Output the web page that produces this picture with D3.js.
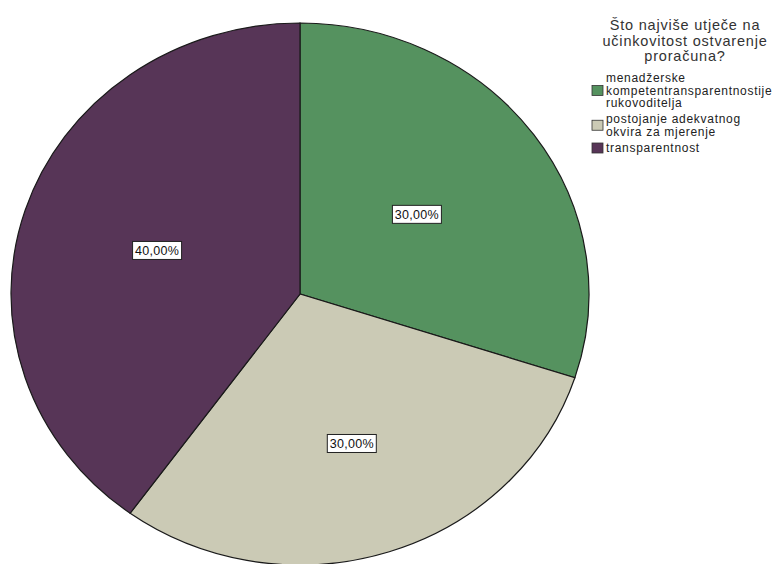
<!DOCTYPE html>
<html>
<head>
<meta charset="utf-8">
<script src="https://cdn.jsdelivr.net/npm/d3@7"></script>
<style>
  body { margin: 0; background: #fff; }
  svg { display: block; font-family: "Liberation Sans", Arial, sans-serif; }
</style>
</head>
<body>
<svg id="chart" width="774" height="564"></svg>
<script>
const categories = [
  ["menadžerske", "kompetentransparentnostije", "rukovoditelja"],
  ["postojanje adekvatnog", "okvira za mjerenje"],
  ["transparentnost"]
];
const values = [30, 30, 40];
const valueLabels = ["30,00%", "30,00%", "40,00%"];
const colors = ["#55925f", "#cbcab5", "#573557"];
const legendTitle = ["Što najviše utječe na", "učinkovitost ostvarenje", "proračuna?"];
const labelRadiusFactor = [0.5, 0.58, 0.52];

const svg = d3.select("#chart");
const cx = 300, cy = 294, rx = 289, ry = 271;

const pie = d3.pie().sort(null).value(d => d);
const arcs = pie(values);
const arc = d3.arc().innerRadius(0).outerRadius(rx);

const g = svg.append("g").attr("transform", `translate(${cx},${cy}) scale(1,${ry / rx})`);
g.selectAll("path")
  .data(arcs)
  .join("path")
  .attr("d", arc)
  .attr("fill", (d, i) => colors[i])
  .attr("stroke", "#1a1a1a")
  .attr("stroke-width", 1.2)
  .attr("vector-effect", "non-scaling-stroke");

// value labels
arcs.forEach((d, i) => {
  const a = (d.startAngle + d.endAngle) / 2;
  const f = labelRadiusFactor[i];
  const x = cx + Math.sin(a) * rx * f;
  const y = cy - Math.cos(a) * ry * f;
  const lg = svg.append("g").attr("transform", `translate(${x},${y})`);
  const w = 49, h = 18;
  lg.append("rect")
    .attr("x", -w / 2).attr("y", -h / 2)
    .attr("width", w).attr("height", h)
    .attr("fill", "#fff").attr("stroke", "#222").attr("stroke-width", 1);
  lg.append("text")
    .attr("text-anchor", "middle")
    .attr("dy", "0.36em")
    .attr("font-size", 12.5)
    .attr("letter-spacing", 0.3)
    .attr("fill", "#111")
    .text(valueLabels[i]);
});

// legend title
const titleX = 685;
const titleText = svg.append("text")
  .attr("text-anchor", "middle")
  .attr("font-size", 14.5)
  .attr("letter-spacing", 0.8)
  .attr("fill", "#333");
legendTitle.forEach((t, i) => {
  titleText.append("tspan")
    .attr("x", titleX).attr("y", 30 + i * 15.5)
    .text(t);
});

// legend items
const itemStarts = [82, 123, 152];
const lineH = 12.5;
categories.forEach((lines, i) => {
  const y0 = itemStarts[i];
  const n = lines.length;
  const txt = svg.append("text")
    .attr("font-size", 12)
    .attr("letter-spacing", 0.7)
    .attr("fill", "#222");
  lines.forEach((t, j) => {
    txt.append("tspan")
      .attr("x", 606).attr("y", y0 + j * lineH)
      .text(t);
  });
  const midY = y0 + (n - 1) * lineH / 2 - 4;
  svg.append("rect")
    .attr("x", 592).attr("y", midY - 5)
    .attr("width", 11).attr("height", 10)
    .attr("fill", colors[i])
    .attr("stroke", "#333").attr("stroke-width", 0.8);
});
</script>
</body>
</html>
